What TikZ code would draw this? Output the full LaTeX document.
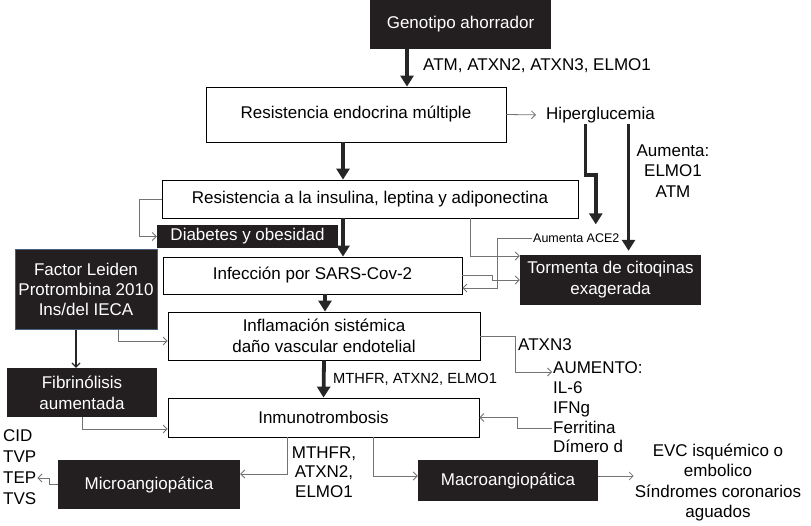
\documentclass[tikz,border=0pt]{standalone}
\usepackage{fontspec}
\setmainfont{Liberation Sans}
\usetikzlibrary{arrows.meta, positioning}
\definecolor{boxblack}{RGB}{35,31,32}
\definecolor{edgeblue}{RGB}{70,95,125}
\begin{document}
\begin{tikzpicture}[x=1pt, y=-1pt, font=\fontsize{17}{20}\selectfont,
  box/.style={draw=black, line width=0.8pt, fill=white, inner sep=0pt, align=center},
  darkbox/.style={fill=boxblack, text=white, inner sep=0pt, align=center},
  txt/.style={inner sep=1pt},
  bigarrow/.style={draw=black!85, line width=3.8pt, -{Triangle[length=11pt,width=13pt]}},
  thinarrow/.style={draw=black!55, line width=0.8pt, -{Straight Barb[length=4pt,width=8pt]}}]
\useasboundingbox (0,0) rectangle (811,525);
% boxes
\node [darkbox, minimum width=181pt, minimum height=49pt] (geno) at (460.5, 24.5) {Genotipo ahorrador};
\node [box, minimum width=300pt, minimum height=55pt] (endo) at (356, 114.5) {Resistencia endocrina múltiple};
\node [box, minimum width=416pt, minimum height=38pt] (insul) at (370, 199) {Resistencia a la insulina, leptina y adiponectina};
\node [darkbox, minimum width=181pt, minimum height=23pt] (diab) at (247.5, 236.5) {Diabetes y obesidad};
\node [box, minimum width=299pt, minimum height=37pt] (infec) at (312.5, 275.5) {Infección por SARS-Cov-2};
\node [darkbox, minimum width=181pt, minimum height=50pt, font=\fontsize{17}{21}\selectfont] (torm) at (610.5, 280) {Tormenta de citoqinas\\exagerada};
\node [darkbox, draw=edgeblue, line width=1pt, minimum width=142pt, minimum height=80pt] (factor) at (86, 289) {Factor Leiden\\Protrombina 2010\\Ins/del IECA};
\node [box, minimum width=312pt, minimum height=48pt, font=\fontsize{17}{21}\selectfont] (infl) at (324, 336) {Inflamación sistémica\\daño vascular endotelial};
\node [darkbox, minimum width=150pt, minimum height=49pt, font=\fontsize{17}{21}\selectfont] (fibr) at (82, 392.5) {Fibrinólisis\\aumentada};
\node [box, minimum width=311pt, minimum height=39pt] (inmuno) at (323.5, 417.5) {Inmunotrombosis};
\node [darkbox, minimum width=182pt, minimum height=49pt] (micro) at (149, 484.5) {Microangiopática};
\node [darkbox, minimum width=180pt, minimum height=41pt] (macro) at (508, 480.5) {Macroangiopática};
% texts
\node [txt, anchor=west] (genlbl) at (422, 66) {ATM, ATXN2, ATXN3, ELMO1};
\node [txt, anchor=west] (hiper) at (545, 115) {Hiperglucemia};
\node [txt, align=center, font=\fontsize{17}{20.5}\selectfont] (aumlbl) at (673, 171) {Aumenta:\\ELMO1\\ATM};
\node [txt, anchor=west, font=\fontsize{12.5}{14}\selectfont] (ace) at (532, 238) {Aumenta ACE2};
\node [txt, anchor=west, font=\fontsize{14.7}{17}\selectfont] (mthlbl) at (332, 379) {MTHFR, ATXN2, ELMO1};
\node [txt, anchor=west] (atxn) at (517, 345) {ATXN3};
\node [txt, anchor=west, align=left, font=\fontsize{17}{19.75}\selectfont] (aum) at (552, 407.5) {AUMENTO:\\IL-6\\IFNg\\Ferritina\\Dímero d};
\node [txt, anchor=west, align=left, font=\fontsize{17}{21}\selectfont] (cid) at (2, 467.5) {CID\\TVP\\TEP\\TVS};
\node [txt, align=center, font=\fontsize{17}{19.5}\selectfont] (mthlist) at (324, 472) {MTHFR,\\ATXN2,\\ELMO1};
\node [txt, align=center, font=\fontsize{17}{20.5}\selectfont] (evc) at (718, 482.5) {EVC isquémico o\\embolico\\Síndromes coronarios\\aguados};
% thick arrows
\draw [bigarrow] ([xshift=-53.5pt]geno.south) -- ([xshift=-53.5pt]geno.south |- endo.north);
\draw [bigarrow] ([xshift=-13pt]endo.south) -- ([xshift=-13pt]endo.south |- insul.north);
\draw [bigarrow] ([xshift=-27pt]insul.south) -- ([xshift=-27pt]insul.south |- infec.north);
\draw [bigarrow] ([xshift=12.5pt]infec.south) -- ([xshift=12.5pt]infec.south |- infl.north);
\draw [bigarrow] (infl.south) -- (inmuno.north);
\draw [bigarrow, shorten >=8pt] ([xshift=-15pt]hiper.south) -- ++(0, 51) -| ([xshift=19.5pt]ace.north);
\draw [bigarrow, shorten >=4pt] ([xshift=28pt]hiper.south) -- ([xshift=28pt]hiper.south |- torm.north);
% thin arrows
\draw [thinarrow, shorten >=9pt] (endo.east) -- (hiper.west);
\draw [thinarrow] (insul.west) -- ++(-22, 0) |- (diab.west);
\draw [thinarrow] ([xshift=100pt]insul.south) |- ([yshift=24pt]torm.west);
\draw [thinarrow] (infec.east) -- ++(30, 0) |- (torm.west);
\draw [thinarrow] (ace.west) -- ++(-35, 0) |- ([yshift=-12.5pt]infec.east);
\draw [thinarrow, draw=black!85, line width=1.2pt] ([xshift=-10pt]factor.south) -- ([xshift=-10pt]factor.south |- fibr.north);
\draw [thinarrow] ([xshift=32pt]factor.south) |- ([yshift=-5pt]infl.west);
\draw [thinarrow] (infl.east) -- ++(35, 0) |- ([yshift=35.5pt]aum.west);
\draw [thinarrow] ([yshift=-20.5pt]aum.west) -- ++(-35, 0) |- (inmuno.east);
\draw [thinarrow] (fibr.south) |- ([yshift=-11.5pt]inmuno.west);
\draw [thinarrow] ([xshift=-36.5pt]inmuno.south) |- ([yshift=10.5pt]micro.east);
\draw [thinarrow] ([xshift=49.5pt]inmuno.south) |- ([yshift=4.5pt]macro.west);
\draw [thinarrow] (micro.west) -- ++(-8, 0) |- ([yshift=-10.5pt]cid.east);
\draw [thinarrow] ([yshift=4.5pt]macro.east) -- ([yshift=4.5pt]macro.east -| evc.west);
\end{tikzpicture}
\end{document}
